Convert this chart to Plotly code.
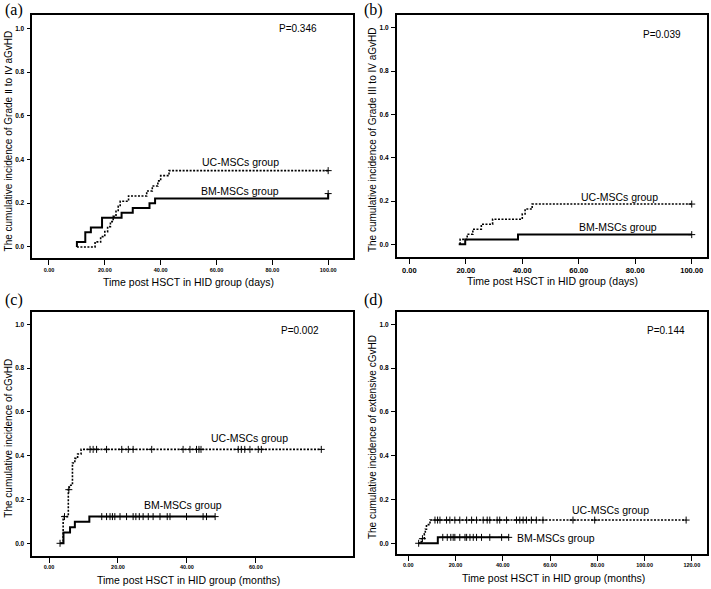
import plotly.graph_objects as go

# ---------------- data ----------------
# Panel (a): grade II-IV aGvHD (days)
a_bm_start = 10
a_bm_t = [10, 13, 15, 19, 26, 30, 36, 38, 100]
a_bm_y = [0.022, 0.067, 0.089, 0.133, 0.156, 0.178, 0.200, 0.222, 0.244]
a_bm_end = 100
a_bm_cens = [100]
a_uc_start = 10
a_uc_t = [16.5, 18.5, 20, 21, 22, 23, 24, 24.8, 25.5, 28.5, 35, 37, 39, 40, 43]
a_uc_y = [0.023, 0.047, 0.070, 0.093, 0.116, 0.140, 0.163, 0.186, 0.209,
          0.233, 0.256, 0.279, 0.302, 0.326, 0.349]
a_uc_end = 100
a_uc_cens = [100]

# Panel (b): grade III-IV aGvHD (days)
b_bm_start = 17.5
b_bm_t = [19.8, 38.5]
b_bm_y = [0.022, 0.045]
b_bm_end = 100
b_bm_cens = [100]
b_uc_start = 18
b_uc_t = [18, 20.5, 22.5, 25.5, 29.5, 40, 41, 43.5]
b_uc_y = [0.023, 0.047, 0.070, 0.093, 0.116, 0.140, 0.163, 0.186]
b_uc_end = 100
b_uc_cens = [100]

# Panel (c): cGvHD (months)
c_bm_start = 3.2
c_bm_t = [4.2, 6.1, 7.5, 11.7]
c_bm_y = [0.049, 0.073, 0.098, 0.122]
c_bm_end = 48.2
c_bm_cens = [3.2, 15.3, 16.7, 17.7, 18.4, 19.1, 20.6, 22.5, 24.4, 25.2, 26.2,
             27.3, 28.8, 30.2, 32.2, 34.3, 35.1, 39.9, 44.7, 45.7, 48.2]
c_uc_start = 3.6
c_uc_t = [4.1, 5.6, 5.9, 6.8, 7.5, 8.3, 9.3]
c_uc_y = [0.122, 0.245, 0.265, 0.367, 0.388, 0.408, 0.429]
c_uc_end = 79
c_uc_cens = [4.5, 5.75, 11.9, 12.8, 13.8, 16.7, 21.1, 23.0, 24.4, 29.8, 38.9,
             40.9, 42.8, 43.5, 44.1, 54.9, 55.8, 56.8, 58.3, 60.7, 61.6, 79]

# Panel (d): extensive cGvHD (months)
d_bm_start = 4.4
d_bm_t = [12.5]
d_bm_y = [0.027]
d_bm_end = 42.5
d_bm_cens = [4.4, 14.6, 16.5, 18.0, 19.0, 19.7, 21.8, 24.0, 24.7, 26.1, 27.5,
             28.9, 31.0, 34.5, 39.5, 42.5]
d_uc_start = 4.2
d_uc_t = [5.5, 6.8, 7.2, 7.7, 9.2]
d_uc_y = [0.021, 0.043, 0.064, 0.085, 0.106]
d_uc_end = 117.6
d_uc_cens = [6.0, 11.3, 12.4, 13.4, 16.2, 17.6, 19.7, 21.8, 24.7, 26.8, 28.9,
             31.7, 33.4, 34.5, 37.6, 38.7, 41.6, 45.8, 47.2, 48.6, 50.0, 52.1,
             54.2, 57.0, 69.7, 78.9, 117.6]

y_titles = ["The cumulative incidence of Grade \u2161 to \u2163 aGvHD",
            "The cumulative incidence of Grade III to IV aGvHD",
            "The cumulative incidence of cGvHD",
            "The cumulative incidence of extensive cGvHD"]
x_titles = ["Time post HSCT in HID group (days)",
            "Time post HSCT in HID group (days)",
            "Time post HSCT in HID group (months)",
            "Time post HSCT in HID group (months)"]
p_values = ["P=0.346", "P=0.039", "P=0.002", "P=0.144"]
panel_letters = ["(a)", "(b)", "(c)", "(d)"]
x_ticks = [[0, 20, 40, 60, 80, 100], [0, 20, 40, 60, 80, 100],
           [0, 20, 40, 60], [0, 20, 40, 60, 80, 100, 120]]
y_ticks = [0.0, 0.2, 0.4, 0.6, 0.8, 1.0]
uc_name = "UC-MSCs group"
bm_name = "BM-MSCs group"

# ---------------- layout geometry (pixels) ----------------
W, H = 711, 589
boxes = [(32.3, 353.3, 15, 258.3), (396.7, 706.7, 15, 256.7),
         (32.3, 353.0, 311.7, 556), (396.7, 706.7, 311.7, 554)]
x_ranges = [[-5.98, 109.0], [-4.46, 105.3], [-4.85, 88.2], [-4.9, 126.3]]
y_ranges = [[-0.052, 1.061], [-0.057, 1.059], [-0.058, 1.058], [-0.049, 1.058]]
# label positions in data units
p_pos = [(89.2, 0.997), (89.4, 0.97), (72.9, 0.971), (109, 0.974)]
uc_lab = [(68.7, 0.387), (74.6, 0.22), (58.1, 0.482), (85.4, 0.152)]
bm_lab = [(68.4, 0.256), (74.0, 0.081), (38.8, 0.175), (62.4, 0.023)]
xtick_size = [5.5, 7.5, 5.5, 5.5]
xtitle_cx = [188, 552.5, 188, 553]


def step_xy(start, times, vals, end):
    xs = [start] + list(times) + [end]
    ys = [0.0] + list(vals) + [vals[-1]]
    return xs, ys


def step_at(times, vals, t):
    v = 0.0
    for ti, vi in zip(times, vals):
        if t >= ti:
            v = vi
    return v


panels = [
    (a_bm_start, a_bm_t, a_bm_y, a_bm_end, a_bm_cens,
     a_uc_start, a_uc_t, a_uc_y, a_uc_end, a_uc_cens),
    (b_bm_start, b_bm_t, b_bm_y, b_bm_end, b_bm_cens,
     b_uc_start, b_uc_t, b_uc_y, b_uc_end, b_uc_cens),
    (c_bm_start, c_bm_t, c_bm_y, c_bm_end, c_bm_cens,
     c_uc_start, c_uc_t, c_uc_y, c_uc_end, c_uc_cens),
    (d_bm_start, d_bm_t, d_bm_y, d_bm_end, d_bm_cens,
     d_uc_start, d_uc_t, d_uc_y, d_uc_end, d_uc_cens),
]

fig = go.Figure()
annotations = []
FONT = "Liberation Sans, Arial, sans-serif"

for i, p in enumerate(panels):
    (bs, bt, by, be, bc, us, ut, uy, ue, uc) = p
    xa = "x" if i == 0 else f"x{i+1}"
    ya = "y" if i == 0 else f"y{i+1}"
    # UC dotted
    ux, uyy = step_xy(us, ut, uy, ue)
    fig.add_trace(go.Scatter(x=ux, y=uyy, mode="lines", line_shape="hv",
                             line=dict(color="black", width=1.6, dash="2px,1.5px"),
                             xaxis=xa, yaxis=ya, showlegend=False, hoverinfo="skip"))
    fig.add_trace(go.Scatter(x=uc, y=[step_at(ut, uy, t) for t in uc], mode="markers",
                             marker=dict(symbol="cross-thin", size=5,
                                         line=dict(color="black", width=1)),
                             xaxis=xa, yaxis=ya, showlegend=False, hoverinfo="skip"))
    # BM solid
    bx, byy = step_xy(bs, bt, by, be)
    fig.add_trace(go.Scatter(x=bx, y=byy, mode="lines", line_shape="hv",
                             line=dict(color="black", width=2),
                             xaxis=xa, yaxis=ya, showlegend=False, hoverinfo="skip"))
    fig.add_trace(go.Scatter(x=bc, y=[step_at(bt, by, t) for t in bc], mode="markers",
                             marker=dict(symbol="cross-thin", size=5,
                                         line=dict(color="black", width=1)),
                             xaxis=xa, yaxis=ya, showlegend=False, hoverinfo="skip"))

    l, r, t, b = boxes[i]
    axkey = "xaxis" if i == 0 else f"xaxis{i+1}"
    aykey = "yaxis" if i == 0 else f"yaxis{i+1}"
    fig.update_layout({
        axkey: dict(domain=[l / W, r / W], range=x_ranges[i], anchor=ya,
                    tickvals=x_ticks[i], tickformat=".2f",
                    ticks="outside", ticklen=5, tickwidth=1, tickcolor="black",
                    showline=True, linecolor="black", linewidth=1.6, mirror=True,
                    showgrid=False, zeroline=False,
                    tickfont=dict(family=FONT, size=xtick_size[i], color="black",
                                  weight="bold")),
        aykey: dict(domain=[1 - b / H, 1 - t / H], range=y_ranges[i], anchor=xa,
                    tickvals=y_ticks, tickformat=".1f",
                    ticks="outside", ticklen=4, tickwidth=1, tickcolor="black",
                    showline=True, linecolor="black", linewidth=1.6, mirror=True,
                    showgrid=False, zeroline=False, ticklabelstandoff=1,
                    tickfont=dict(family=FONT, size=6.5, color="black",
                                  weight="bold")),
    })

    xr = "x" if i == 0 else f"x{i+1}"
    yr = "y" if i == 0 else f"y{i+1}"
    annotations.append(dict(x=p_pos[i][0], y=p_pos[i][1], xref=xr, yref=yr,
                            text=p_values[i], showarrow=False,
                            font=dict(family=FONT, size=10, color="black")))
    annotations.append(dict(x=uc_lab[i][0], y=uc_lab[i][1], xref=xr, yref=yr,
                            text=uc_name, showarrow=False,
                            font=dict(family=FONT, size=10.5, color="black")))
    annotations.append(dict(x=bm_lab[i][0], y=bm_lab[i][1], xref=xr, yref=yr,
                            text=bm_name, showarrow=False,
                            font=dict(family=FONT, size=10.5, color="black")))
    # axis titles
    annotations.append(dict(x=xtitle_cx[i] / W, y=1 - (b + 24) / H, xref="paper",
                            yref="paper", text=x_titles[i], showarrow=False,
                            xanchor="center", yanchor="middle",
                            font=dict(family=FONT, size=10.5, color="black")))
    ytx = l - 23.5
    annotations.append(dict(x=ytx / W, y=1 - ((t + b) / 2 + 4) / H, xref="paper",
                            yref="paper", text=y_titles[i], showarrow=False,
                            textangle=-90, xanchor="center", yanchor="middle",
                            font=dict(family=FONT, size=10, color="black")))
    # panel letter
    lx = 3 if i % 2 == 0 else 362
    ly = 10 if i < 2 else 300
    annotations.append(dict(x=lx / W, y=1 - ly / H, xref="paper", yref="paper",
                            text=panel_letters[i], showarrow=False, xanchor="left",
                            yanchor="middle",
                            font=dict(family="Liberation Serif, Times New Roman, serif",
                                      size=16, color="black")))

fig.update_layout(width=W, height=H, margin=dict(l=0, r=0, t=0, b=0),
                  paper_bgcolor="white", plot_bgcolor="white",
                  annotations=annotations, showlegend=False)

fig.write_html("out.html", config={"displayModeBar": False},
               post_script="document.body.style.margin='0px';"
                           "document.body.style.padding='0px';")
